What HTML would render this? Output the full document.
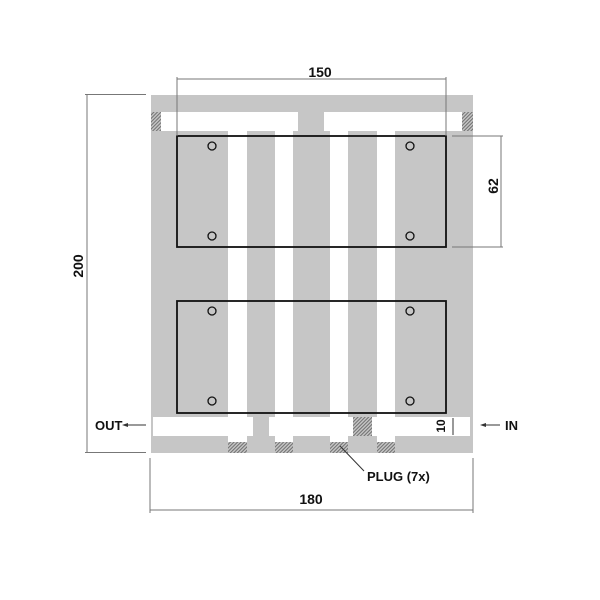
<!DOCTYPE html>
<html><head><meta charset="utf-8"><style>
html,body{margin:0;padding:0;background:#fff;}
svg{display:block;}
text{font-family:"Liberation Sans",sans-serif;font-weight:bold;fill:#111;}
</style></head><body>
<svg width="600" height="600" viewBox="0 0 600 600" xmlns="http://www.w3.org/2000/svg">
<defs>
<pattern id="h" width="2.5" height="2.5" patternUnits="userSpaceOnUse" patternTransform="rotate(45)">
<rect width="2.5" height="2.5" fill="#c8c8c8"/><line x1="0.6" y1="0" x2="0.6" y2="2.5" stroke="#6a6a6a" stroke-width="1"/>
</pattern>
</defs>
<rect x="151" y="95" width="322" height="358" fill="#c6c6c6"/>
<rect x="161" y="112" width="137" height="19" fill="#fff"/>
<rect x="324" y="112" width="138" height="19" fill="#fff"/>
<rect x="151" y="112" width="10" height="19" fill="url(#h)"/>
<rect x="462" y="112" width="11" height="19" fill="url(#h)"/>
<rect x="228" y="131" width="19" height="311" fill="#fff"/>
<rect x="275" y="131" width="18" height="311" fill="#fff"/>
<rect x="330" y="131" width="18" height="311" fill="#fff"/>
<rect x="377" y="131" width="18" height="311" fill="#fff"/>
<rect x="153" y="417" width="317" height="19" fill="#fff"/>
<rect x="253" y="412" width="16" height="30" fill="#c6c6c6"/>
<rect x="247" y="436" width="28" height="6" fill="#c6c6c6"/>
<rect x="353" y="417" width="19" height="19" fill="url(#h)"/>
<rect x="228" y="442" width="19" height="11" fill="url(#h)"/>
<rect x="275" y="442" width="18" height="11" fill="url(#h)"/>
<rect x="330" y="442" width="18" height="11" fill="url(#h)"/>
<rect x="377" y="442" width="18" height="11" fill="url(#h)"/>
<rect x="177" y="136" width="269" height="111" fill="none" stroke="#111" stroke-width="1.8"/>
<rect x="177" y="301" width="269" height="112" fill="none" stroke="#111" stroke-width="1.8"/>
<g fill="none" stroke="#111" stroke-width="1.3">
<circle cx="212" cy="146" r="4"/><circle cx="410" cy="146" r="4"/>
<circle cx="212" cy="236" r="4"/><circle cx="410" cy="236" r="4"/>
<circle cx="212" cy="311" r="4"/><circle cx="410" cy="311" r="4"/>
<circle cx="212" cy="401" r="4"/><circle cx="410" cy="401" r="4"/>
</g>
<g stroke="#777" stroke-width="1" fill="none">
<line x1="177" y1="77" x2="177" y2="136"/><line x1="446" y1="77" x2="446" y2="136"/>
<line x1="177" y1="79" x2="446" y2="79"/>
<line x1="85" y1="94.5" x2="146" y2="94.5"/><line x1="85" y1="452.5" x2="146" y2="452.5"/>
<line x1="87" y1="95" x2="87" y2="452"/>
<line x1="452" y1="136" x2="503" y2="136"/><line x1="452" y1="247" x2="503" y2="247"/>
<line x1="501" y1="136" x2="501" y2="247"/>
<line x1="150" y1="458" x2="150" y2="513"/><line x1="473" y1="458" x2="473" y2="513"/>
<line x1="150" y1="510" x2="473" y2="510"/>
<line x1="453" y1="418" x2="453" y2="435" stroke="#333"/>
<line x1="340" y1="446" x2="364" y2="471" stroke="#333"/>
<line x1="125" y1="425" x2="146" y2="425" stroke="#333"/>
<line x1="482" y1="425" x2="500" y2="425" stroke="#333"/>
</g>
<polygon points="122,425 128,423 128,427" fill="#333"/>
<polygon points="480,425 486,423 486,427" fill="#333"/>
<text x="320" y="77" font-size="14" text-anchor="middle">150</text>
<text x="0" y="0" font-size="14" text-anchor="middle" transform="translate(83,266) rotate(-90)">200</text>
<text x="0" y="0" font-size="14" text-anchor="middle" transform="translate(498,186) rotate(-90)">62</text>
<text x="311" y="504" font-size="14" text-anchor="middle">180</text>
<text x="0" y="0" font-size="12" text-anchor="middle" transform="translate(445,426) rotate(-90)">10</text>
<text x="95" y="430" font-size="13">OUT</text>
<text x="505" y="430" font-size="13">IN</text>
<text x="367" y="481" font-size="13">PLUG (7x)</text>
</svg>
</body></html>
